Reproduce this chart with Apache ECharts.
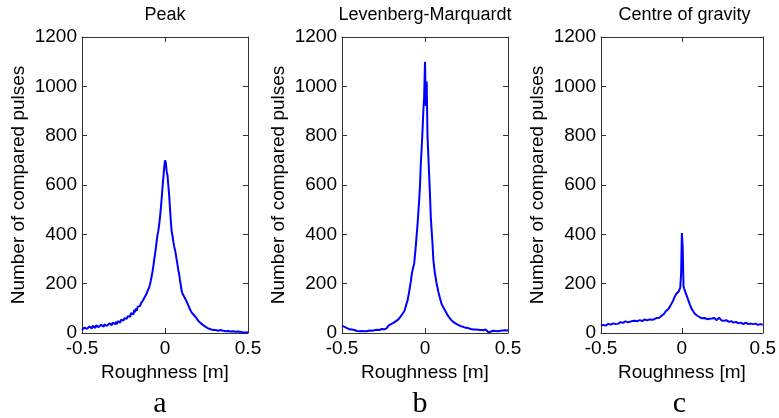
<!DOCTYPE html>
<html><head><meta charset="utf-8">
<script src="https://cdn.jsdelivr.net/npm/echarts@6/dist/echarts.min.js"></script>
<style>html,body{margin:0;padding:0;background:#fff}#c{width:779px;height:418px}</style>
</head><body><div id="c"></div>
<script>
// Roughness bins: -0.5 .. 0.5, step 0.005
const binStart = -0.5, binStep = 0.005, binCount = 201;
const rough = [];
for (let i = 0; i < binCount; i++) rough.push(+(binStart + i * binStep).toFixed(3));

const titles = ['Peak', 'Levenberg-Marquardt', 'Centre of gravity'];
const letters = ['a', 'b', 'c'];
const xTicks = [-0.5, 0, 0.5];
const yTicks = [0, 200, 400, 600, 800, 1000, 1200];

const peak = [
12,20,15,22,14,24,17,25,16,26,
19,27,18,29,21,28,20,31,23,29,
24,32,22,33,26,34,25,35,27,36,
29,37,28,39,31,40,32,42,34,41,
36,45,35,48,40,50,42,54,46,56,
50,60,52,64,58,68,62,74,66,80,
72,88,76,95,84,100,90,106,100,114,
110,120,118,130,132,142,144,154,158,170,
175,186,198,214,232,250,272,298,320,345,
372,398,415,440,470,505,545,590,630,670,
700,
690,655,640,598,560,505,455,412,395,372,
352,338,320,298,278,255,240,215,195,172,
160,155,148,142,135,128,120,112,105,96,
90,84,80,76,72,68,64,60,55,50,
47,44,40,38,35,32,30,27,25,22,
20,19,17,16,15,13,14,12,13,11,
12,10,13,9,11,10,12,8,10,9,
8,10,7,9,6,8,7,9,6,7,
5,7,6,8,5,6,4,6,5,4,
5,3,4,2,4,3,2,4,3,3
];

const levMar = [
30,28,27,25,26,22,20,18,17,15,
16,13,14,12,10,12,9,11,8,10,
9,7,10,6,8,5,9,7,6,8,
7,9,8,10,7,11,9,12,10,11,
12,10,13,11,14,12,15,13,16,14,
17,15,19,22,20,26,30,28,34,36,
35,38,41,40,44,48,46,52,55,60,
64,68,72,78,82,88,98,110,122,132,
150,168,190,210,238,255,262,282,320,355,
400,440,490,540,600,690,750,820,900,960,
1100,
920,1020,800,720,640,560,470,415,365,300,
268,240,222,200,185,168,155,142,130,118,
112,104,98,92,86,80,74,68,64,60,
55,52,48,45,43,40,38,36,34,33,
31,30,28,29,26,25,24,22,21,20,
19,20,17,18,16,17,15,14,15,13,
14,12,15,13,16,14,12,15,13,11,
12,10,14,8,6,4,7,3,5,8,
6,9,7,10,8,11,9,7,10,8,
9,11,8,10,12,9,11,10,12,10
];

const cog = [
30,34,28,33,31,36,30,35,32,37,
33,38,34,36,32,39,35,40,36,38,
41,37,43,39,44,40,46,41,45,42,
47,43,48,44,50,45,46,51,44,49,
52,46,50,47,53,48,51,45,52,49,
54,48,52,50,55,49,53,51,56,52,
55,53,58,54,57,60,56,62,58,61,
60,64,62,68,66,70,67,74,78,84,
88,92,90,96,100,106,112,118,124,130,
138,146,152,158,165,160,168,175,185,240,
405,
345,190,178,170,160,152,142,132,124,114,
106,98,92,88,82,78,74,72,70,68,
66,64,62,65,60,63,58,61,57,60,
56,59,54,58,62,55,59,53,57,61,
55,58,52,60,56,62,54,57,51,55,
53,50,54,48,52,47,51,45,49,46,
48,44,47,42,46,41,45,40,44,39,
43,38,42,37,41,36,40,38,42,37,
40,36,39,35,38,34,39,36,40,35,
38,34,37,33,39,35,36,32,37,34
];

const seriesValues = [peak, levMar, cog];

const chart = echarts.init(document.getElementById('c'), null, {renderer: 'canvas'});
const FONT = 'Liberation Sans, Arial, sans-serif';
const frameColor = '#333';
const gridLefts = [82, 342, 601];
const gridWidths = [166, 166, 167];
const grid = [], xAxis = [], yAxis = [], series = [], graphic = [];

for (let g = 0; g < 3; g++) {
  grid.push({left: gridLefts[g], top: 37, width: gridWidths[g], height: 296, containLabel: false});
  const xBase = {gridIndex: g, type: 'value', min: xTicks[0], max: xTicks[2], interval: 0.5,
    splitLine: {show: false}, axisLine: {show: true, onZero: false, lineStyle: {color: frameColor, width: 1}},
    axisTick: {show: true, inside: true, length: 5, lineStyle: {color: frameColor}}};
  xAxis.push(Object.assign({}, xBase, {position: 'bottom',
    name: 'Roughness [m]', nameLocation: 'middle', nameGap: 30,
    nameTextStyle: {fontFamily: FONT, fontSize: 19, color: '#000'},
    axisLabel: {fontFamily: FONT, fontSize: 19, color: '#000', margin: 6,
      formatter: v => (v === 0 ? '0' : String(v))}}));
  xAxis.push(Object.assign({}, xBase, {position: 'top', axisLabel: {show: false}}));
  const yBase = {gridIndex: g, type: 'value', min: yTicks[0], max: yTicks[yTicks.length - 1], interval: 200,
    splitLine: {show: false}, axisLine: {show: true, onZero: false, lineStyle: {color: frameColor, width: 1}},
    axisTick: {show: true, inside: true, length: 5, lineStyle: {color: frameColor}}};
  yAxis.push(Object.assign({}, yBase, {position: 'left',
    name: 'Number of compared pulses', nameLocation: 'middle', nameGap: 54, nameRotate: 90,
    nameTextStyle: {fontFamily: FONT, fontSize: 19, color: '#000'},
    axisLabel: {fontFamily: FONT, fontSize: 19, color: '#000', margin: 5, formatter: v => String(v)}}));
  yAxis.push(Object.assign({}, yBase, {position: 'right', axisLabel: {show: false}}));
  series.push({type: 'line', xAxisIndex: 2 * g, yAxisIndex: 2 * g, showSymbol: false, symbol: 'none',
    lineStyle: {color: '#0000ff', width: 2}, itemStyle: {color: '#0000ff'},
    data: rough.map((x, i) => [x, seriesValues[g][i]])});
  const cx = gridLefts[g] + gridWidths[g] / 2;
  graphic.push({type: 'text', x: cx, y: 15, style: {text: titles[g], fill: '#000',
    font: '18px ' + FONT, textAlign: 'center', textVerticalAlign: 'middle'}});
  graphic.push({type: 'text', x: cx - 5, y: 404, style: {text: letters[g], fill: '#000',
    font: '30px "Liberation Serif", "Times New Roman", serif', textAlign: 'center', textVerticalAlign: 'middle'}});
}

chart.setOption({animation: false, backgroundColor: '#fff', grid, xAxis, yAxis, series, graphic});
</script></body></html>
